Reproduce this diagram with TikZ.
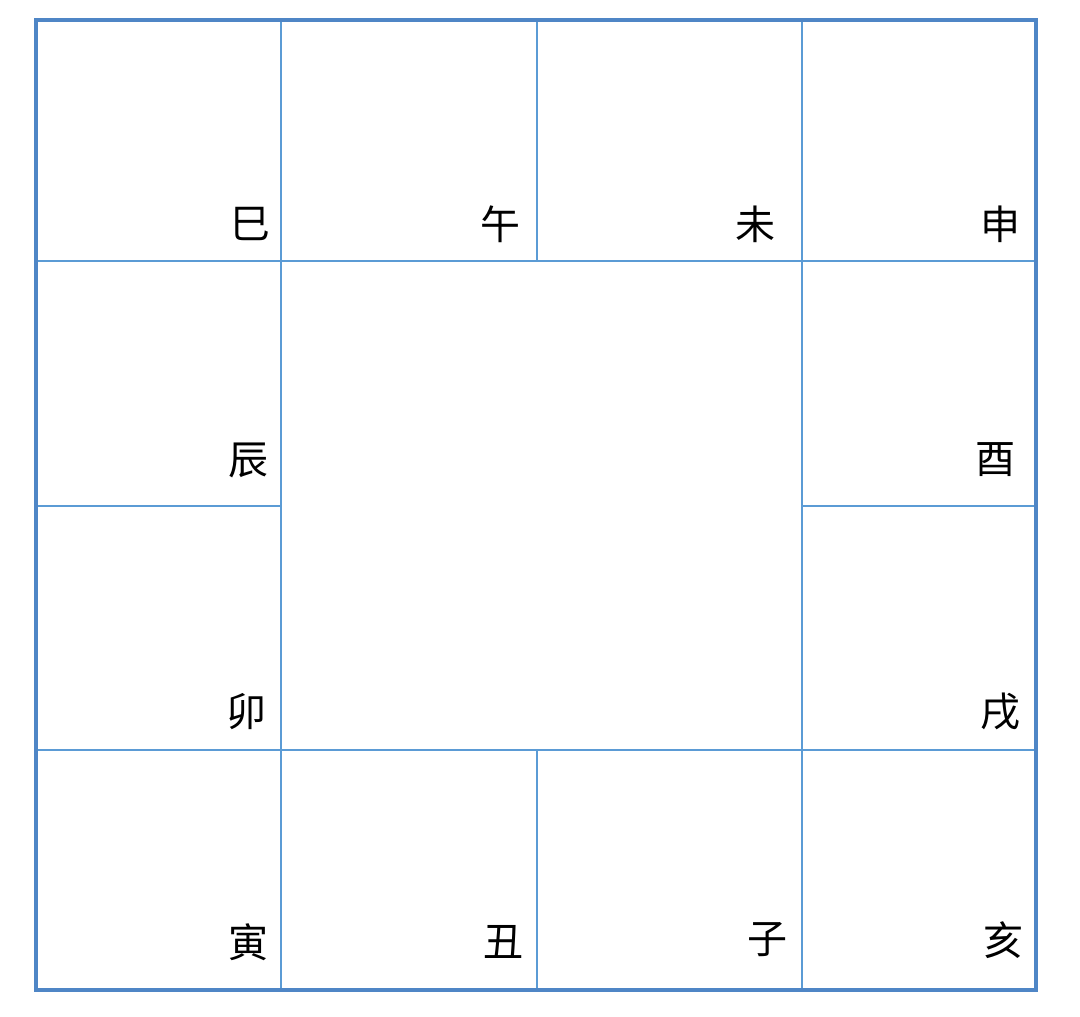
\documentclass[tikz,border=0pt]{standalone}
\usepackage{fontspec}
\newfontfamily\cjk{Noto Sans CJK SC}
\definecolor{gridblue}{HTML}{5B9BD5}
\definecolor{frameblue}{HTML}{4F86C6}
\begin{document}
\begin{tikzpicture}[x=0.75pt, y=-0.75pt,
                    cell/.style={draw=gridblue, line width=2.1pt},
                    frame/.style={draw=frameblue, line width=2.5pt},
                    branch/.style={font=\cjk\fontsize{30}{30}\selectfont, inner sep=0pt}]
\useasboundingbox (0,0) rectangle (1080,1016);
\fill[white] (0,0) rectangle (1080,1016);
% inner lines
\draw[cell] (281,20) -- (281,990);
\draw[cell] (802,20) -- (802,990);
\draw[cell] (537,20) -- (537,261);
\draw[cell] (537,750) -- (537,990);
\draw[cell] (36,261) -- (1036,261);
\draw[cell] (36,750) -- (1036,750);
\draw[cell] (36,506) -- (281,506);
\draw[cell] (802,506) -- (1036,506);
% outer frame
\draw[frame] (36,20) rectangle (1036,990);
% top row
\node[branch] (si)   at (250,224) {巳};
\node[branch] (wu)   at (500,224) {午};
\node[branch] (wei)  at (755,224) {未};
\node[branch] (shen) at (1000,224) {申};
% sides
\node[branch] (chen) at (248,460) {辰};
\node[branch] (you)  at (995,460) {酉};
\node[branch] (mao)  at (246,712) {卯};
\node[branch] (xu)   at (1000,712) {戌};
% bottom row
\node[branch] (yin)  at (248,942) {寅};
\node[branch] (chou) at (503,942) {丑};
\node[branch] (zi)   at (767,940) {子};
\node[branch] (hai)  at (1003,940) {亥};
\end{tikzpicture}
\end{document}
